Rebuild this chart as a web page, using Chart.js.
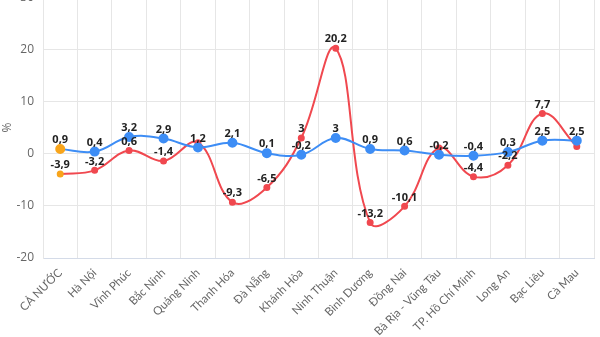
<!DOCTYPE html>
<html>
<head>
<meta charset="utf-8">
<script src="https://cdn.jsdelivr.net/npm/chart.js@4/dist/chart.umd.min.js"></script>
<style>
  html, body { margin: 0; padding: 0; background: #fff; overflow: hidden; }
  #wrap { position: absolute; left: 0; top: -19px; width: 600px; height: 356px; }
</style>
</head>
<body>
<div id="wrap"><canvas id="chart"></canvas></div>
<script>
// --- Data ---
const CATEGORIES = ['CẢ NƯỚC', 'Hà Nội', 'Vĩnh Phúc', 'Bắc Ninh', 'Quảng Ninh', 'Thanh Hóa', 'Đà Nẵng', 'Khánh Hòa',
  'Ninh Thuận', 'Bình Dương', 'Đồng Nai', 'Bà Rịa - Vũng Tàu', 'TP. Hồ Chí Minh', 'Long An', 'Bạc Liêu', 'Cà Mau'];
const BLUE_VALUES = [0.9, 0.4, 3.2, 2.9, 1.2, 2.1, 0.1, -0.2, 3, 0.9, 0.6, -0.2, -0.4, 0.3, 2.5, 2.5];
const RED_VALUES = [-3.9, -3.2, 0.6, -1.4, 2.1, -9.3, -6.5, 3, 20.2, -13.2, -10.1, 1.1, -4.4, -2.2, 7.7, 1.4];
const Y_TICKS = [-20, -10, 0, 10, 20, 30];

const BLUE = '#3d8df5';
const RED = '#f0484f';
const ORANGE = '#f8a51c';

function fmt(v) {
  return String(v).replace('.', ',');
}

// first point of each series highlighted
function pointColors(vals, color) {
  return vals.map((v, i) => i === 0 ? ORANGE : color);
}

// --- value labels, blue first; red hidden where they collide ---
const valueLabels = {
  id: 'valueLabels',
  afterDatasetsDraw(chart) {
    const ctx = chart.ctx;
    ctx.save();
    ctx.font = 'bold 11px "Open Sans", sans-serif';
    ctx.fillStyle = '#222';
    ctx.textAlign = 'center';
    ctx.textBaseline = 'middle';
    const boxes = [];
    chart.data.datasets.forEach((ds, di) => {
      const meta = chart.getDatasetMeta(di);
      meta.data.forEach((pt, i) => {
        const txt = fmt(ds.data[i]);
        const w = ctx.measureText(txt).width;
        const cx = pt.x, cy = pt.y - 9;
        const box = {l: cx - w / 2 - 1, r: cx + w / 2 + 1, t: cy - 6, b: cy + 6};
        const hit = boxes.some(b => box.l < b.r && box.r > b.l && box.t < b.b && box.b > b.t);
        if (hit) return;
        boxes.push(box);
        ctx.fillText(txt, cx, cy);
      });
    });
    ctx.restore();
  }
};

new Chart(document.getElementById('chart'), {
  type: 'line',
  data: {
    labels: CATEGORIES,
    datasets: [
      {
        data: BLUE_VALUES,
        borderColor: BLUE,
        backgroundColor: BLUE,
        pointBackgroundColor: pointColors(BLUE_VALUES, BLUE),
        pointBorderColor: pointColors(BLUE_VALUES, BLUE),
        pointRadius: 4,
        borderWidth: 2,
        tension: 0.4,
        fill: false,
      },
      {
        data: RED_VALUES,
        borderColor: RED,
        backgroundColor: RED,
        pointBackgroundColor: pointColors(RED_VALUES, RED),
        pointBorderColor: pointColors(RED_VALUES, RED),
        pointRadius: 2.5,
        borderWidth: 2,
        tension: 0.4,
        fill: false,
      }
    ]
  },
  options: {
    responsive: true,
    maintainAspectRatio: false,
    animation: false,
    layout: { padding: { left: 0, right: 5, top: 0, bottom: 0 } },
    plugins: { legend: { display: false }, tooltip: { enabled: false } },
    scales: {
      x: {
        offset: true,
        grid: { offset: true, color: '#e6e6e6', drawTicks: false },
        border: { color: '#d4dbe8' },
        ticks: {
          color: '#666', padding: 8, maxRotation: 45, minRotation: 45, autoSkip: false,
          font: { family: 'Lato, sans-serif', size: 11.5 }
        },
        afterFit: s => { s.height = 79; }
      },
      y: {
        min: -20, max: 30,
        afterBuildTicks: s => { s.ticks = Y_TICKS.map(v => ({value: v})); },
        grid: { color: '#e6e6e6', drawTicks: false },
        border: { color: '#e6e6e6' },
        ticks: {
          color: '#666', padding: 9,
          font: { family: '"Open Sans", sans-serif', size: 12 }
        },
        title: {
          display: true, text: '%', color: '#666', padding: 0,
          font: { family: '"Open Sans", sans-serif', size: 12 }
        },
        afterFit: s => { s.width = 43; }
      }
    }
  },
  plugins: [valueLabels]
});
</script>
</body>
</html>
